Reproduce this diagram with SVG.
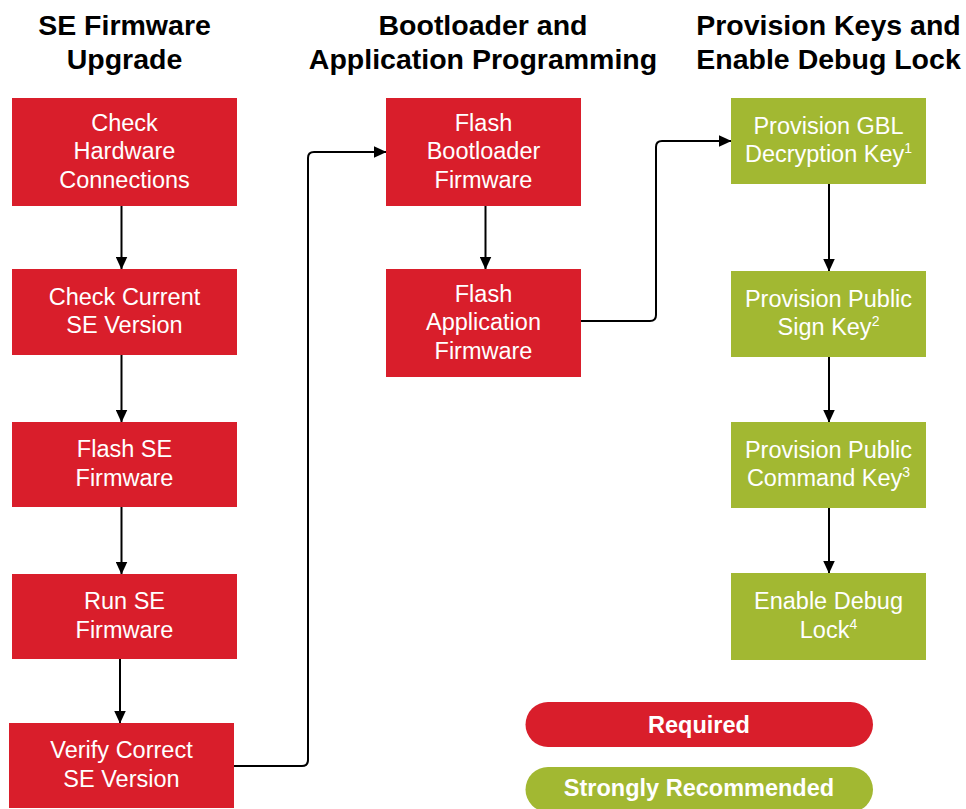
<svg xmlns="http://www.w3.org/2000/svg" width="966" height="809" viewBox="0 0 966 809">
<style>
.title{font-family:"Liberation Sans",Arial,sans-serif;font-weight:bold;font-size:28.5px;fill:#000;text-anchor:middle}
.red{fill:#D91E2B}
.green{fill:#A2B832}
.lbl{font-family:"Liberation Sans",Arial,sans-serif;font-size:23.5px;fill:#fff;text-anchor:middle}
.leg{font-family:"Liberation Sans",Arial,sans-serif;font-weight:bold;font-size:23.5px;fill:#fff;text-anchor:middle}
.sup{font-size:14px}
.conn{fill:none;stroke:#000;stroke-width:2;marker-end:url(#arrow)}
</style>
<defs>
<marker id="arrow" markerUnits="userSpaceOnUse" markerWidth="13" markerHeight="12" refX="12.5" refY="6" orient="auto">
<path d="M0,0 L13,6 L0,12 z" fill="#000"/>
</marker>
</defs>
<rect width="966" height="809" fill="#fff"/>
<g id="titles">
<text class="title" x="124.5" y="35">SE Firmware</text>
<text class="title" x="124.5" y="68.5">Upgrade</text>
<text class="title" x="483" y="35">Bootloader and</text>
<text class="title" x="483" y="68.5">Application Programming</text>
<text class="title" x="828.5" y="35">Provision Keys and</text>
<text class="title" x="828.5" y="68.5">Enable Debug Lock</text>
</g>
<g id="connectors">
<path class="conn" d="M121.5 206 V269"/>
<path class="conn" d="M121.5 355 V422"/>
<path class="conn" d="M121.5 507 V574"/>
<path class="conn" d="M120 659 V723"/>
<path class="conn" d="M234 766 H302 Q308 766 308 760 V158 Q308 152 314 152 H386"/>
<path class="conn" d="M485.5 206 V269"/>
<path class="conn" d="M581 321 H650 Q656 321 656 315 V147 Q656 141 662 141 H731"/>
<path class="conn" d="M829 184 V271"/>
<path class="conn" d="M829 357 V422"/>
<path class="conn" d="M829 508 V573"/>
</g>
<g id="n1">
<rect class="red" x="12" y="98" width="225" height="108"/>
<text class="lbl" x="124.5" y="130.5">Check</text>
<text class="lbl" x="124.5" y="159">Hardware</text>
<text class="lbl" x="124.5" y="187.5">Connections</text>
</g>
<g id="n2">
<rect class="red" x="12" y="269" width="225" height="86"/>
<text class="lbl" x="124.5" y="304.75">Check Current</text>
<text class="lbl" x="124.5" y="333.25">SE Version</text>
</g>
<g id="n3">
<rect class="red" x="12" y="422" width="225" height="85"/>
<text class="lbl" x="124.5" y="457.25">Flash SE</text>
<text class="lbl" x="124.5" y="485.75">Firmware</text>
</g>
<g id="n4">
<rect class="red" x="12" y="574" width="225" height="85"/>
<text class="lbl" x="124.5" y="609.25">Run SE</text>
<text class="lbl" x="124.5" y="637.75">Firmware</text>
</g>
<g id="n5">
<rect class="red" x="9" y="723" width="225" height="85"/>
<text class="lbl" x="121.5" y="758.25">Verify Correct</text>
<text class="lbl" x="121.5" y="786.75">SE Version</text>
</g>
<g id="n6">
<rect class="red" x="386" y="98" width="195" height="108"/>
<text class="lbl" x="483.5" y="130.5">Flash</text>
<text class="lbl" x="483.5" y="159">Bootloader</text>
<text class="lbl" x="483.5" y="187.5">Firmware</text>
</g>
<g id="n7">
<rect class="red" x="386" y="269" width="195" height="108"/>
<text class="lbl" x="483.5" y="301.5">Flash</text>
<text class="lbl" x="483.5" y="330">Application</text>
<text class="lbl" x="483.5" y="358.5">Firmware</text>
</g>
<g id="n8">
<rect class="green" x="731" y="98" width="195" height="86"/>
<text class="lbl" x="828.5" y="133.75">Provision GBL</text>
<text class="lbl" x="828.5" y="162.25">Decryption Key<tspan class="sup" dy="-9">1</tspan></text>
</g>
<g id="n9">
<rect class="green" x="731" y="271" width="195" height="86"/>
<text class="lbl" x="828.5" y="306.75">Provision Public</text>
<text class="lbl" x="828.5" y="335.25">Sign Key<tspan class="sup" dy="-9">2</tspan></text>
</g>
<g id="n10">
<rect class="green" x="731" y="422" width="195" height="86"/>
<text class="lbl" x="828.5" y="457.75">Provision Public</text>
<text class="lbl" x="828.5" y="486.25">Command Key<tspan class="sup" dy="-9">3</tspan></text>
</g>
<g id="n11">
<rect class="green" x="731" y="573" width="195" height="87"/>
<text class="lbl" x="828.5" y="609.25">Enable Debug</text>
<text class="lbl" x="828.5" y="637.75">Lock<tspan class="sup" dy="-9">4</tspan></text>
</g>
<g id="legend-required">
<rect class="red" x="525.5" y="702" width="347.5" height="45" rx="22.5"/>
<text class="leg" x="699" y="733">Required</text>
</g>
<g id="legend-recommended">
<rect class="green" x="525.5" y="767" width="347.5" height="45" rx="22.5"/>
<text class="leg" x="699" y="796">Strongly Recommended</text>
</g>
</svg>
